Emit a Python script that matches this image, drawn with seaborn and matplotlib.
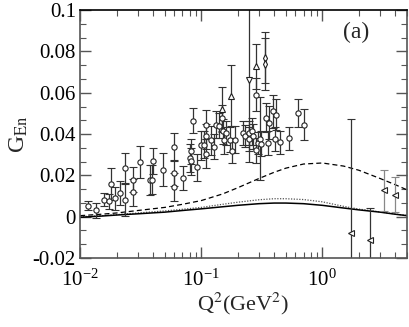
import numpy as np
import pandas as pd
import matplotlib
matplotlib.use("Agg")
import matplotlib.pyplot as plt
import seaborn as sns
from matplotlib.ticker import AutoMinorLocator, FixedLocator, FixedFormatter, LogLocator, NullFormatter

# ===============================
# Data
# ===============================
# open circles: Q2, G_En, error
circ_q2 = [0.0117, 0.0136, 0.0156, 0.0174, 0.0179, 0.0195, 0.0213, 0.0235, 0.0235, 0.0271,
           0.0271, 0.0312, 0.0377, 0.0389, 0.0401, 0.0485, 0.0598, 0.0598, 0.0598, 0.0708,
           0.0804, 0.082, 0.082, 0.0857, 0.0923, 0.1004, 0.105, 0.110, 0.109, 0.109,
           0.120, 0.127, 0.132, 0.140, 0.147, 0.151, 0.153, 0.159, 0.174, 0.181,
           0.189, 0.221, 0.228, 0.247, 0.250, 0.264, 0.270, 0.281, 0.294, 0.307,
           0.310, 0.285, 0.340, 0.366, 0.395, 0.416, 0.355, 0.403, 0.451, 0.535,
           0.626, 0.702]
circ_g = [0.0053, 0.0030, 0.0082, 0.0074, 0.0158, 0.0090, 0.0115, 0.0236, 0.0082, 0.0180,
          0.0118, 0.0265, 0.0176, 0.0180, 0.0268, 0.0228, 0.0338, 0.0211, 0.0144, 0.0187,
          0.0284, 0.0268, 0.0316, 0.0465, 0.0240, 0.0345, 0.0349, 0.0305, 0.0446, 0.0389,
          0.0370, 0.0338, 0.0446, 0.0440, 0.0478, 0.0413, 0.0370, 0.0405, 0.0373, 0.0320,
          0.0373, 0.0405, 0.0390, 0.0405, 0.0376, 0.0413, 0.0390, 0.0321, 0.0357, 0.0378,
          0.0353, 0.0590, 0.0478, 0.0454, 0.0510, 0.0494, 0.0357, 0.0376, 0.0360, 0.0380,
          0.0502, 0.0446]
circ_err = [0.0022, 0.0035, 0.0032, 0.0037, 0.0078, 0.0056, 0.0056, 0.0073, 0.0077, 0.0060,
            0.0065, 0.0077, 0.0073, 0.0070, 0.0063, 0.0080, 0.0065, 0.0060, 0.0066, 0.0060,
            0.0070, 0.0065, 0.0060, 0.0060, 0.0065, 0.0070, 0.0065, 0.0070, 0.0070, 0.0060,
            0.0070, 0.0060, 0.0065, 0.0060, 0.0065, 0.0060, 0.0065, 0.0060, 0.0060, 0.0060,
            0.0065, 0.0060, 0.0055, 0.0060, 0.0060, 0.0065, 0.0060, 0.0060, 0.0055, 0.0200,
            0.0060, 0.0080, 0.0070, 0.0080, 0.0080, 0.0075, 0.0060, 0.0060, 0.0055, 0.0056,
            0.0070, 0.0074]

# triangles up
tri_q2 = [0.149, 0.177, 0.285]
tri_g = [0.0520, 0.0586, 0.0728]
tri_err = [0.011, 0.0147, 0.011]

# diamonds
dia_q2 = [0.337, 0.337]
dia_g = [0.0770, 0.0740]
dia_err = [0.0125, 0.0125]

# triangle down
tdn_q2 = [0.250]
tdn_g = [0.0663]
tdn_err = [0.040]

# left triangles (high Q2)
tl_q2 = [1.74, 2.48, 3.24, 3.98]
tl_g = [-0.0079, -0.0111, 0.0127, 0.0107]
tl_err = [0.055, 0.0153, 0.010, 0.0085]

# model curves
curve_q2 = [0.01, 0.015, 0.02, 0.03, 0.05, 0.07, 0.1, 0.15, 0.2, 0.3,
            0.4, 0.5, 0.7, 1.0, 1.5, 2.0, 3.0, 4.0, 5.0]
dashed_g = [0.0005, 0.0012, 0.0018, 0.0030, 0.0045, 0.0060, 0.0078, 0.0110, 0.0140, 0.0185,
            0.0215, 0.0235, 0.0255, 0.0260, 0.0245, 0.0225, 0.0185, 0.0155, 0.0130]
dotted_g = [0.0000, 0.0005, 0.0010, 0.0018, 0.0028, 0.0036, 0.0045, 0.0060, 0.0070, 0.0082,
            0.0087, 0.0087, 0.0083, 0.0072, 0.0050, 0.0037, 0.0023, 0.0013, 0.0006]
solid_g = [-0.0003, 0.0003, 0.0008, 0.0014, 0.0022, 0.0030, 0.0038, 0.0048, 0.0055, 0.0063,
           0.0066, 0.0066, 0.0063, 0.0055, 0.0042, 0.0033, 0.0022, 0.0012, 0.0005]

ytick_vals = [-0.02, 0, 0.02, 0.04, 0.06, 0.08, 0.1]
ytick_labels = ["-0.02", "0", "0.02", "0.04", "0.06", "0.08", "0.1"]

# ===============================
# Style
# ===============================
sns.set_style("ticks")
plt.rcParams["font.family"] = ["Liberation Serif", "DejaVu Serif"]
plt.rcParams["mathtext.fontset"] = "stix"

fig = plt.figure(figsize=(4.09, 3.27), dpi=100)
ax = fig.add_axes([0.196, 0.211, 0.799, 0.758])

curves = pd.DataFrame({"q2": curve_q2, "dashed": dashed_g, "dotted": dotted_g, "solid": solid_g})
sns.lineplot(data=curves, x="q2", y="dashed", ax=ax, color="black", lw=0.9, linestyle=(0, (4, 2.5)))
sns.lineplot(data=curves, x="q2", y="dotted", ax=ax, color="#555555", lw=0.9, linestyle=(0, (1, 1.2)))
sns.lineplot(data=curves, x="q2", y="solid", ax=ax, color="black", lw=1.1)

common = dict(ls="none", ms=3.8, mfc="white", mew=0.8, elinewidth=0.9, capsize=3, capthick=0.9)
ax.errorbar(circ_q2, circ_g, yerr=circ_err, fmt="o", color="#222222", ecolor="#333333", **common)
ax.errorbar(tri_q2, tri_g, yerr=tri_err, fmt="^", color="#222222", ecolor="#333333", **common)
ax.errorbar(dia_q2, dia_g, yerr=dia_err, fmt="d", color="#222222", ecolor="#333333", **common)
ax.errorbar(tdn_q2, tdn_g, yerr=tdn_err, fmt="v", color="#222222", ecolor="#333333", **common)
ax.errorbar(tl_q2[:2], tl_g[:2], yerr=tl_err[:2], fmt="<", color="#222222", ecolor="#333333", **common)
ax.errorbar(tl_q2[2:], tl_g[2:], yerr=tl_err[2:], fmt="<", color="#222222", ecolor="#888888", **common)

ax.set_xscale("log")
ax.set_xlim(0.01, 5)
ax.set_ylim(-0.02, 0.1)

ax.yaxis.set_major_locator(FixedLocator(ytick_vals))
ax.yaxis.set_major_formatter(FixedFormatter(ytick_labels))
ax.yaxis.set_minor_locator(AutoMinorLocator(3))
ax.xaxis.set_minor_locator(LogLocator(base=10, subs=np.arange(2, 10)))
ax.xaxis.set_minor_formatter(NullFormatter())

ax.tick_params(which="both", direction="in", top=True, right=True, colors="#555555",
               labelcolor="black", labelsize=15)
ax.tick_params(which="major", length=8, width=1)
ax.tick_params(which="minor", length=4, width=0.8)
ax.tick_params(axis="x", which="major", pad=8)
ax.tick_params(axis="y", which="major", pad=3)
for s in ax.spines.values():
    s.set_color("#555555")
    s.set_linewidth(1.2)
ax.spines["top"].set_color("black")

ax.set_xlabel("Q$^2$(GeV$^2$)", fontsize=16, labelpad=0)
ax.set_ylabel("G$_{\\rm En}$", fontsize=17, labelpad=2)
ax.text(0.845, 0.91, "(a)", transform=ax.transAxes, fontsize=17, ha="center", va="center")

fig.savefig("out.png", dpi=100)
